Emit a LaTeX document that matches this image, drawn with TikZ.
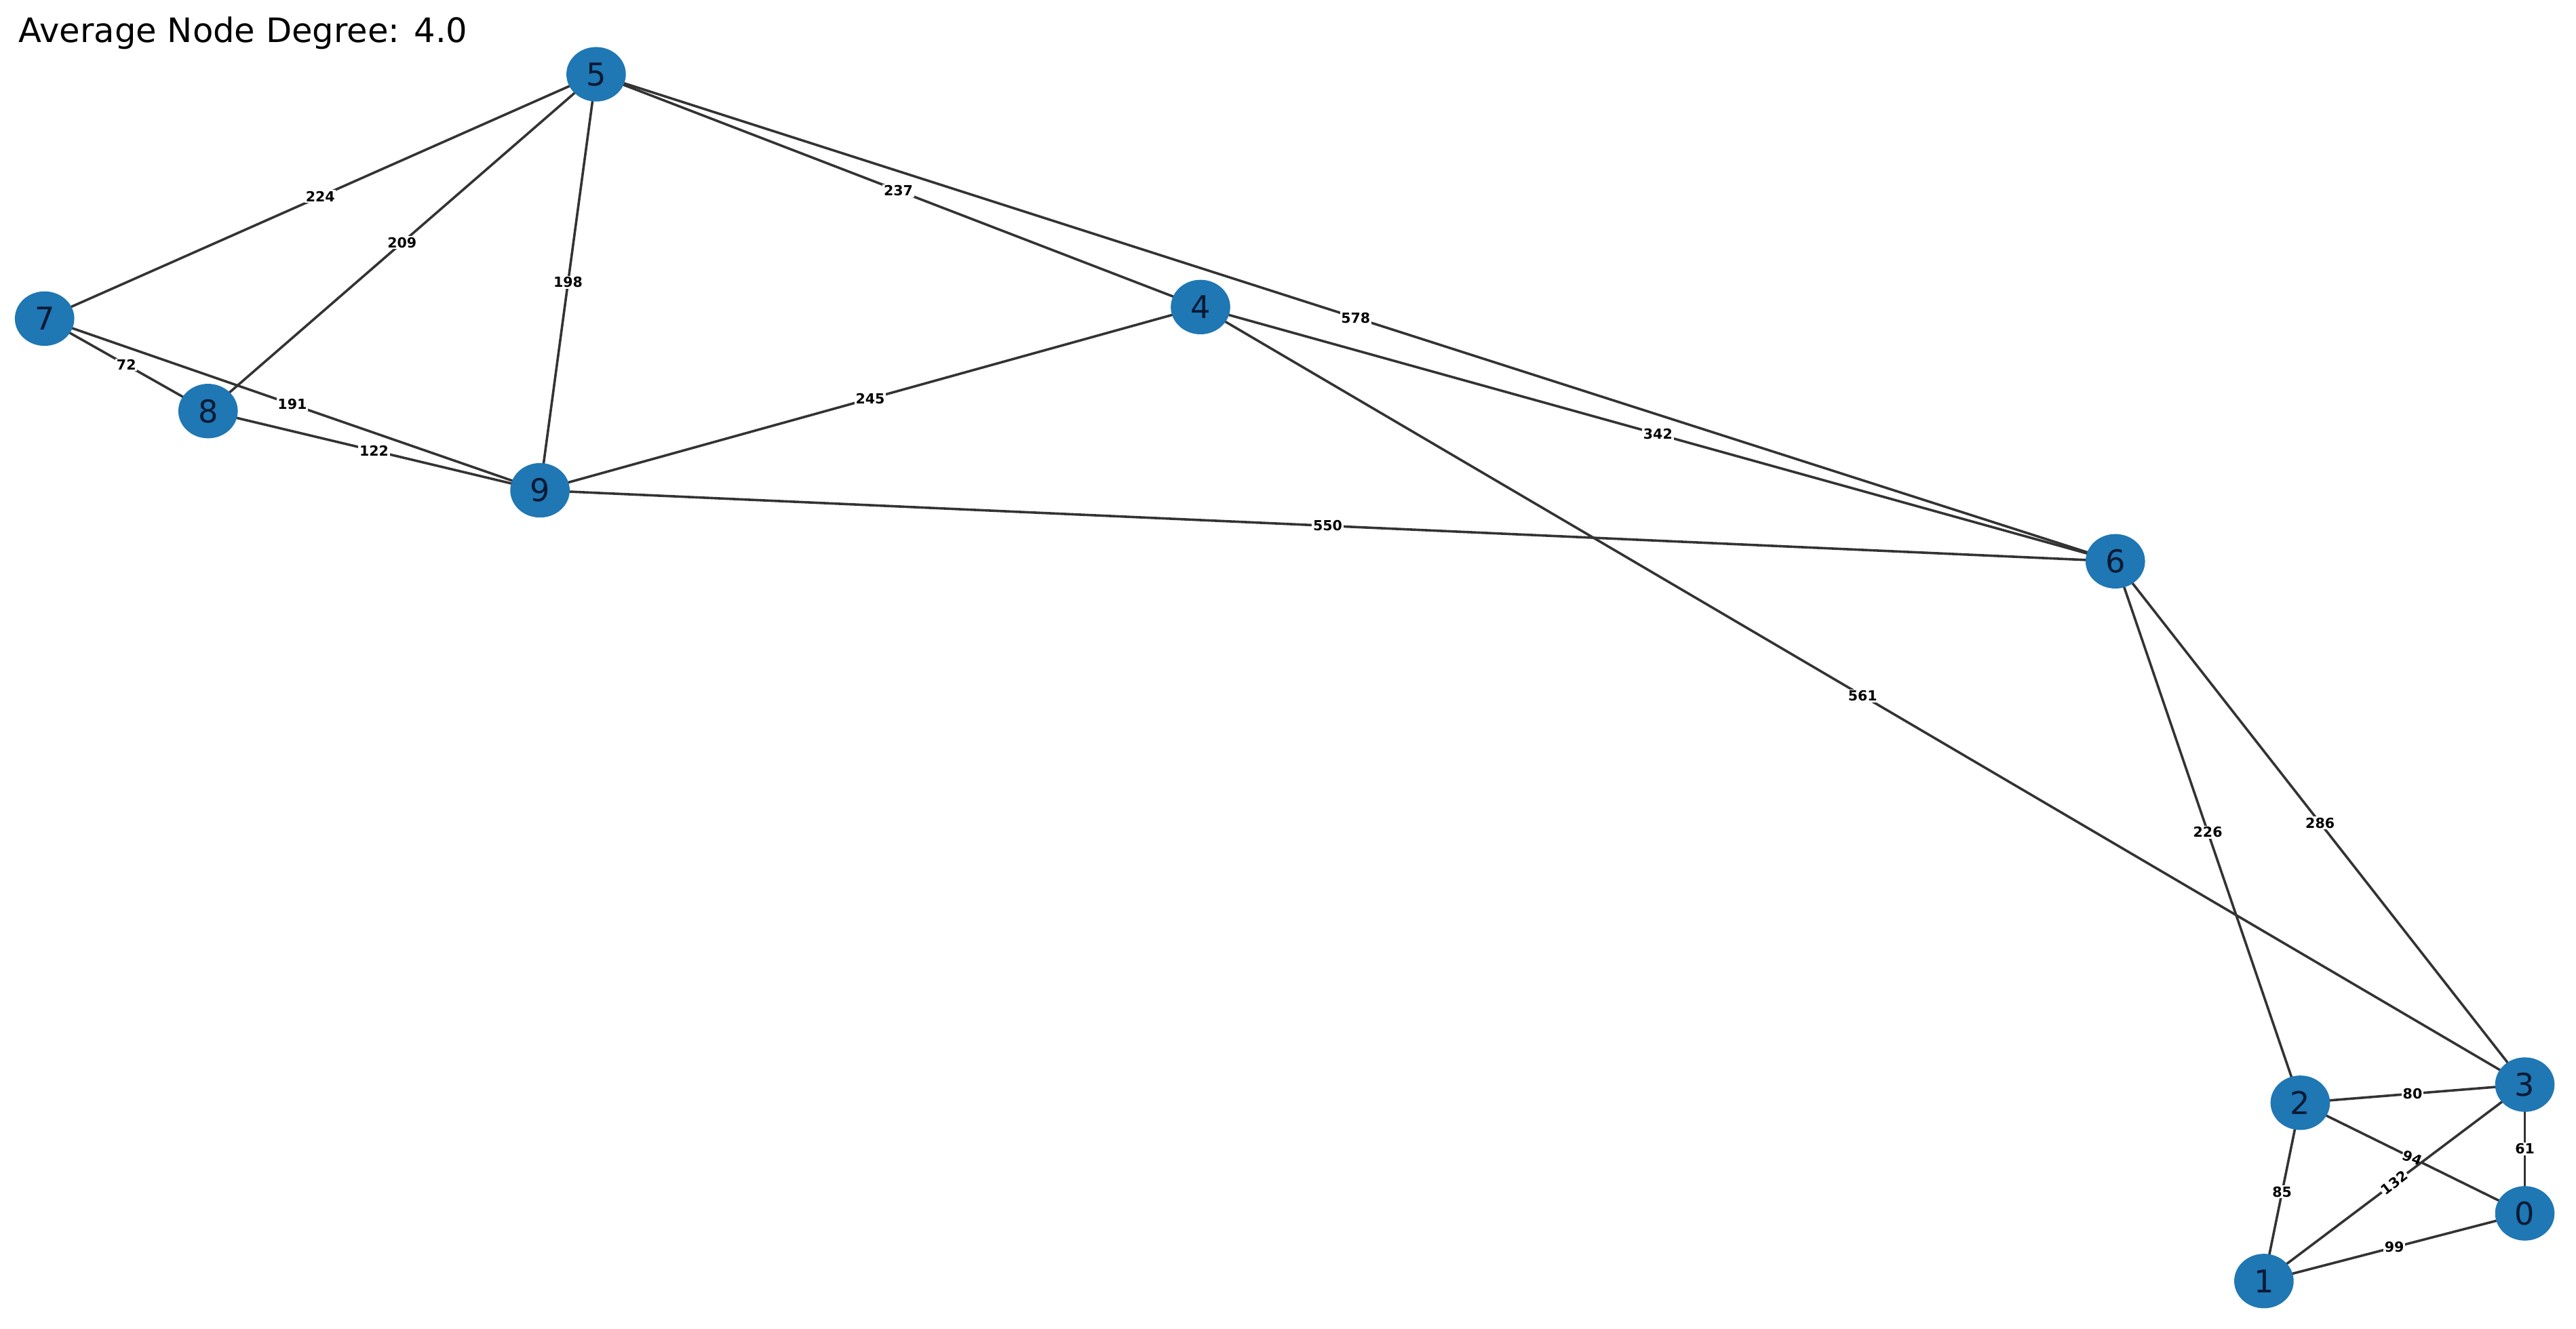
\documentclass[tikz,border=0pt]{standalone}
\usepackage{fontspec}
\usetikzlibrary{shapes.geometric}
\setmainfont{DejaVu Sans}
\definecolor{nb}{HTML}{1F77B4}
\definecolor{ed}{HTML}{333333}
\definecolor{nt}{HTML}{0A1A33}
\begin{document}
\begin{tikzpicture}[x=1mm,y=-1mm,
  vtx/.style={ellipse,fill=nb,minimum width=36mm,minimum height=33mm,inner sep=0pt,text=nt,font=\fontsize{54}{56}\selectfont},
  edg/.style={draw=ed,line width=4.2pt},
  wl/.style={midway,fill=white,inner sep=2pt,font=\bfseries\fontsize{24}{26}\selectfont}]
\useasboundingbox (0,0) rectangle (1560,805);
\node[anchor=west,font=\fontsize{58}{60}\selectfont] (title) at (10,20) {Average Node Degree: 4.0};
\foreach \n/\t/\x/\y in {n5/5/361/45,n7/7/27/193,n8/8/126/249,n9/9/327/297,n4/4/727/186,n6/6/1281/340,n3/3/1529/657,n2/2/1393/668,n0/0/1529/735,n1/1/1371/776}
  \coordinate (\n) at (\x,\y);
\foreach \a/\b/\w/\r in {n5/n7/224/0,n5/n8/209/0,n5/n9/198/0,n5/n4/237/0,n5/n6/578/0,n7/n8/72/0,n7/n9/191/0,n8/n9/122/0,n9/n4/245/0,n4/n6/342/0,n9/n6/550/0,n4/n3/561/0,n6/n2/226/0,n6/n3/286/0,n2/n3/80/0,n2/n0/94/-22,n2/n1/85/0,n3/n0/61/0,n1/n3/132/38,n1/n0/99/0}
  \path[edg] (\a) -- (\b) node[wl,rotate=\r] {\w};
\foreach \n/\t in {n5/5,n7/7,n8/8,n9/9,n4/4,n6/6,n3/3,n2/2,n0/0,n1/1}
  \node[vtx] (v\n) at (\n) {\t};
\end{tikzpicture}
\end{document}
